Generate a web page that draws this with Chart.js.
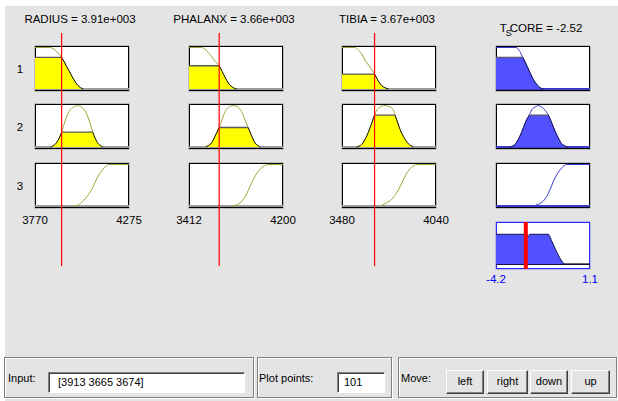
<!DOCTYPE html>
<html>
<head>
<meta charset="utf-8">
<script src="https://cdn.jsdelivr.net/npm/chart.js@4/dist/chart.umd.min.js"></script>
<style>
  html, body { margin: 0; padding: 0; background: #fff; width: 618px; height: 401px; overflow: hidden; }
  #fig { position: absolute; left: 5px; top: 6px; width: 613px; height: 395px; background: #e4e4e4; }
  .t { position: absolute; font: 11.5px "Liberation Sans", Arial, sans-serif; color: #000; white-space: nowrap; line-height: 14px; }
  .box { position: absolute; background: #fff; border: 1px solid #000; box-sizing: border-box; box-shadow: 0 0 0 0.5px rgba(0,0,0,0.35); }
  canvas { position: absolute; }
  .panel { position: absolute; box-sizing: border-box; border: 1px solid #808080; box-shadow: inset 1px 1px 0 #fff, 1px 1px 0 #fff; }
  .field { position: absolute; box-sizing: border-box; background: #fff; border: 1px solid; border-color: #808080 #fff #fff #808080; box-shadow: inset 1px 1px 0 #404040; font: 11px "Liberation Sans", Arial, sans-serif; line-height: 19px; padding-left: 9px; }
  .btn { position: absolute; box-sizing: border-box; border: 1px solid; border-color: #fff #404040 #404040 #fff; box-shadow: inset -1px -1px 0 #808080; font: 11px "Liberation Sans", Arial, sans-serif; text-align: center; line-height: 21px; }
  .lbl { position: absolute; font: 11px "Liberation Sans", Arial, sans-serif; white-space: nowrap; }
</style>
</head>
<body>
<div id="fig"></div>
<script>
// ---- fuzzy system data ----
const inputNames = ['RADIUS', 'PHALANX', 'TIBIA'];
const inputValues = [3913, 3665, 3674];
const inputLabels = ['3.91e+003', '3.66e+003', '3.67e+003'];
const inputRanges = [[3770, 4275], [3412, 4200], [3480, 4040]];
const outputName = 'T_SCORE';
const outputValue = -2.52;
const outputRange = [-4.2, 1.1];
const ruleLabels = ['1', '2', '3'];
const plotPoints = 101;

// membership functions of each variable, one curve per rule row: [x, degree]
const radiusMF = [
  [[3770,1],[3850,1],[3865,0.98],[3880,0.93],[3895,0.86],[3913,0.76],[3925,0.67],[3940,0.54],[3955,0.42],[3970,0.29],[3985,0.18],[4000,0.09],[4015,0.03],[4029,0]],
  [[3854,0],[3877,0.06],[3901,0.22],[3913,0.36],[3922,0.49],[3940,0.73],[3958,0.89],[3976,0.96],[3999,1],[4021,0.96],[4039,0.87],[4056,0.7],[4071,0.5],[4080,0.36],[4101,0.14],[4119,0.04],[4134,0]],
  [[3976,0],[3995,0.01],[4010,0.05],[4029,0.12],[4056,0.27],[4083,0.47],[4101,0.65],[4119,0.79],[4137,0.89],[4150,0.96],[4165,1],[4275,1]]
];
const phalanxMF = [
  [[3412,1],[3518,1],[3546,0.96],[3574,0.88],[3602,0.78],[3630,0.67],[3665,0.56],[3690,0.42],[3714,0.28],[3740,0.15],[3765,0.07],[3790,0.02],[3812,0]],
  [[3552,0],[3602,0.1],[3630,0.26],[3665,0.47],[3690,0.67],[3714,0.85],[3741,0.95],[3783,1],[3825,0.95],[3854,0.85],[3881,0.66],[3909,0.46],[3938,0.26],[3965,0.1],[4007,0]],
  [[3772,0],[3802,0.02],[3832,0.06],[3863,0.14],[3893,0.28],[3923,0.47],[3953,0.65],[3983,0.8],[4014,0.9],[4044,0.97],[4074,1],[4200,1]]
];
const tibiaMF = [
  [[3480,1],[3557,1],[3577,0.94],[3597,0.85],[3617,0.7],[3637,0.58],[3657,0.47],[3674,0.36],[3687,0.26],[3706,0.13],[3726,0.05],[3756,0]],
  [[3568,0],[3597,0.06],[3627,0.26],[3647,0.46],[3661,0.62],[3674,0.77],[3687,0.89],[3706,0.96],[3736,1],[3766,0.96],[3786,0.89],[3796,0.77],[3812,0.58],[3826,0.42],[3845,0.26],[3875,0.08],[3905,0]],
  [[3712,0],[3746,0.08],[3776,0.16],[3806,0.32],[3836,0.55],[3865,0.79],[3895,0.93],[3925,1],[4040,1]]
];
const tscoreMF = [
  [[-4.2,1],[-3.07,1],[-2.85,0.9],[-2.7,0.77],[-2.57,0.66],[-2.44,0.54],[-2.28,0.39],[-2.1,0.23],[-1.9,0.11],[-1.72,0.03],[-1.53,0]],
  [[-3.41,0],[-3.13,0.06],[-2.85,0.26],[-2.66,0.46],[-2.47,0.66],[-2.32,0.77],[-2.19,0.89],[-2.0,0.96],[-1.82,1],[-1.62,0.96],[-1.44,0.89],[-1.25,0.77],[-1.06,0.58],[-0.87,0.38],[-0.69,0.22],[-0.5,0.08],[-0.18,0]],
  [[-2.1,0],[-1.82,0.04],[-1.53,0.12],[-1.34,0.23],[-1.16,0.39],[-0.97,0.59],[-0.78,0.75],[-0.59,0.87],[-0.41,0.95],[-0.21,1],[1.1,1]]
];
// degree of each antecedent, rows = rules, columns = inputs
const antecedentDegrees = [[0.76, 0.56, 0.36], [0.36, 0.47, 0.77], [0, 0, 0]];
// firing strength used to truncate each rule's consequent
const ruleStrengths = [0.76, 0.77, 0];
// aggregated output set
const aggregateMF = [[-4.2,0.77],[-2.45,0.77],[-2.38,0.71],[-2.3,0.77],[-1.25,0.77],[-1.06,0.6],[-0.87,0.41],[-0.69,0.24],[-0.5,0.09],[-0.31,0],[1.1,0]];

// ---- layout ----
const colLeft = [35, 189, 342, 496];
const boxW = 94;
const rowTop = [46, 104, 163];
const boxH = 45;
const aggTop = 222, aggH = 47;
const redTop = 33, redBottom = 266;

const inputStyle = { line: '#a3a332', fill: '#ffff00', edge: '#101010', top: '#5a5a5a', base: '#9c9c9c' };
const outputStyle = { line: '#3b3bd4', fill: '#5151ff', edge: '#14144a', top: '#5a5a66', base: '#3c3cc8' };

function add(tag, cls, css, html) {
  const e = document.createElement(tag);
  if (cls) e.className = cls;
  Object.assign(e.style, css || {});
  if (html != null) e.innerHTML = html;
  document.body.appendChild(e);
  return e;
}
function px(v) { return v + 'px'; }

// horizontal line at degree 0
const baselinePlugin = {
  id: 'baseline',
  beforeDatasetsDraw(chart, args, opts) {
    if (!opts.color) return;
    const { ctx, chartArea: a } = chart;
    const py = chart.scales.y.getPixelForValue(0);
    ctx.save();
    ctx.strokeStyle = opts.color;
    ctx.lineWidth = opts.width || 2;
    ctx.beginPath(); ctx.moveTo(a.left, py); ctx.lineTo(a.right, py); ctx.stroke();
    ctx.restore();
  }
};

// clip the filled copy of a curve below the truncation level, then draw its flat top
const truncPlugin = {
  id: 'trunc',
  afterDatasetDraw(chart, args, opts) {
    if (opts.level == null) return;
    const { ctx, chartArea: a } = chart;
    const y = chart.scales.y;
    const py = y.getPixelForValue(opts.level);
    if (args.index === 1) {
      ctx.save();
      ctx.beginPath();
      ctx.rect(a.left, py, a.right - a.left, a.bottom - py);
      ctx.clip();
    } else if (args.index === 0) {
      ctx.restore();
      const pts = chart.getDatasetMeta(0).data;
      const y0 = y.getPixelForValue(0);
      ctx.save();
      ctx.beginPath();
      ctx.moveTo(pts[0].x, y0);
      pts.forEach(p => ctx.lineTo(p.x, p.y));
      ctx.lineTo(pts[pts.length - 1].x, y0);
      ctx.closePath();
      ctx.clip();
      ctx.strokeStyle = opts.edge;
      ctx.lineWidth = 1.3;
      ctx.beginPath(); ctx.moveTo(a.left, py); ctx.lineTo(a.right, py); ctx.stroke();
      ctx.restore();
    }
  }
};

function makeCanvas(left, top, w, h) {
  const c = add('canvas', null, { left: px(left), top: px(top), width: px(w), height: px(h) });
  c.width = w; c.height = h;
  return c;
}

function baseOptions(range, ymin, ymax) {
  return {
    responsive: false, animation: false, events: [],
    layout: { padding: 0 },
    scales: {
      x: { type: 'linear', min: range[0], max: range[1], display: false },
      y: { type: 'linear', min: ymin, max: ymax, display: false }
    },
    plugins: { legend: { display: false }, tooltip: { enabled: false } }
  };
}

function mfPlot(left, top, range, curve, level, st) {
  add('div', 'box', { left: px(left), top: px(top), width: px(boxW), height: px(boxH) });
  const canvas = makeCanvas(left, top, boxW, boxH);
  const datasets = [];
  const hasFill = level > 0;
  if (hasFill) {
    datasets.push({ data: curve, showLine: true, fill: 'origin', backgroundColor: st.fill,
      borderColor: st.edge, borderWidth: 1, pointRadius: 0, cubicInterpolationMode: 'monotone' });
  }
  datasets.push({ data: curve, showLine: true, fill: false, borderColor: st.line,
    borderWidth: 1, pointRadius: 0, cubicInterpolationMode: 'monotone' });
  const opts = baseOptions(range, -0.048, 1.036);
  opts.plugins.baseline = { color: st.base, width: 2 };
  opts.plugins.trunc = { level: hasFill ? level : null, edge: st.top };
  new Chart(canvas, { type: 'scatter', data: { datasets }, options: opts, plugins: [baselinePlugin, truncPlugin] });
}

// ---- titles ----
inputNames.forEach((n, i) => {
  add('div', 't', { left: px(colLeft[i] + 45 - 70), top: px(12), width: '140px', textAlign: 'center' },
    n + ' = ' + inputLabels[i]);
});
(function () {
  const parts = outputName.split('_');
  const html = parts[0] + '<span style="font-size:9px;position:relative;top:4px;margin-left:-1px;margin-right:-2px">' +
    parts[1].charAt(0) + '</span>' + parts[1].slice(1) + ' = ' + outputValue;
  add('div', 't', { left: px(colLeft[3] + 45 - 70), top: px(21), width: '140px', textAlign: 'center' }, html);
})();

// rule numbers
ruleLabels.forEach((r, j) => {
  add('div', 't', { left: px(15), top: px(rowTop[j] + 16), width: '10px', textAlign: 'center' }, r);
});

// ---- membership plots ----
const inputMFs = [radiusMF, phalanxMF, tibiaMF];
for (let i = 0; i < 3; i++) {
  for (let j = 0; j < 3; j++) {
    mfPlot(colLeft[i], rowTop[j], inputRanges[i], inputMFs[i][j], antecedentDegrees[j][i], inputStyle);
  }
  // range labels under each input column
  add('div', 't', { left: px(colLeft[i] - 30), top: px(213), width: '60px', textAlign: 'center' }, String(inputRanges[i][0]));
  add('div', 't', { left: px(colLeft[i] + boxW - 30), top: px(213), width: '60px', textAlign: 'center' }, String(inputRanges[i][1]));
}
for (let j = 0; j < 3; j++) {
  mfPlot(colLeft[3], rowTop[j], outputRange, tscoreMF[j], ruleStrengths[j], outputStyle);
}

// ---- aggregated output with centroid ----
add('div', 'box', { left: px(colLeft[3]), top: px(aggTop), width: px(boxW), height: px(aggH), borderColor: '#2a2aff', boxShadow: '0 0 0 0.5px rgba(40,40,255,0.45)' });
(function () {
  const canvas = makeCanvas(colLeft[3], aggTop, boxW, aggH);
  const opts = baseOptions(outputRange, -0.12, 1.085);
  opts.plugins.baseline = { color: '#000000', width: 1.5 };
  new Chart(canvas, {
    type: 'scatter',
    data: { datasets: [
      { data: [[outputValue, -0.2], [outputValue, 1.2]], showLine: true, borderColor: '#ff0000', borderWidth: 4, pointRadius: 0, fill: false },
      { data: aggregateMF, showLine: true, fill: 'origin', backgroundColor: outputStyle.fill, borderColor: '#14144a',
        borderWidth: 1, pointRadius: 0, cubicInterpolationMode: 'monotone' }
    ] },
    options: opts,
    plugins: [baselinePlugin]
  });
})();
add('div', 't', { left: px(colLeft[3] - 30), top: px(272), width: '60px', textAlign: 'center', color: '#0000ff' }, String(outputRange[0]));
add('div', 't', { left: px(colLeft[3] + boxW - 30), top: px(272), width: '60px', textAlign: 'center', color: '#0000ff' }, String(outputRange[1]));

// ---- input value markers ----
for (let i = 0; i < 3; i++) {
  const canvas = makeCanvas(colLeft[i], redTop, boxW, redBottom - redTop);
  const opts = baseOptions(inputRanges[i], 0, 1);
  new Chart(canvas, {
    type: 'scatter',
    data: { datasets: [{ data: [[inputValues[i], 0], [inputValues[i], 1]], showLine: true, borderColor: '#ff0000',
      borderWidth: 1.2, pointRadius: 0, fill: false, clip: false }] },
    options: opts
  });
}

// ---- control strip ----
add('div', 'panel', { left: '4px', top: '357px', width: '250px', height: '41px' });
add('div', 'panel', { left: '257px', top: '357px', width: '135px', height: '41px' });
add('div', 'panel', { left: '398px', top: '357px', width: '219px', height: '41px' });
add('div', 'lbl', { left: '8px', top: '372px' }, 'Input:');
add('div', 'field', { left: '48px', top: '372px', width: '197px', height: '21px' }, '[' + inputValues.join(' ') + ']');
add('div', 'lbl', { left: '259px', top: '372px' }, 'Plot points:');
add('div', 'field', { left: '337px', top: '372px', width: '48px', height: '21px', paddingLeft: '6px' }, String(plotPoints));
add('div', 'lbl', { left: '401px', top: '372px' }, 'Move:');
const buttons = ['left', 'right', 'down', 'up'];
const btnLeft = [446, 487, 530, 571];
const btnW = [38, 41, 38, 39];
buttons.forEach((b, k) => {
  add('div', 'btn', { left: px(btnLeft[k]), top: '370px', width: px(btnW[k]), height: '24px' }, b);
});
</script>
</body>
</html>
